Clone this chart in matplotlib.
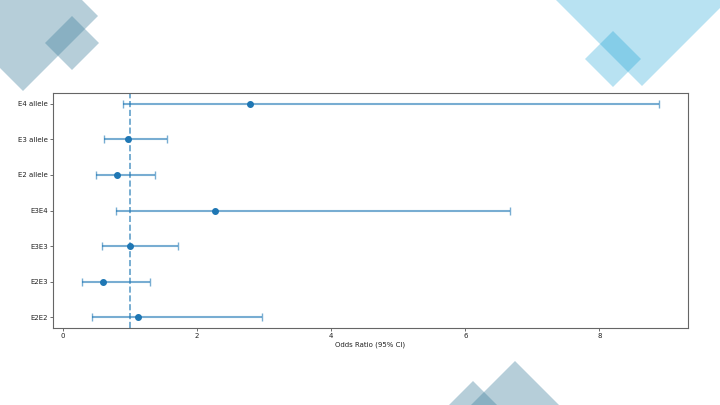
import matplotlib
matplotlib.use("Agg")
import matplotlib.pyplot as plt
from matplotlib.patches import Polygon

categories = ["E2E2", "E2E3", "E3E3", "E3E4", "E2 allele", "E3 allele", "E4 allele"]
odds_ratio = [1.11, 0.59, 1.00, 2.27, 0.80, 0.97, 2.79]
ci_lower = [0.43, 0.28, 0.58, 0.79, 0.49, 0.61, 0.89]
ci_upper = [2.96, 1.29, 1.71, 6.67, 1.37, 1.55, 8.89]

fig = plt.figure(figsize=(7.2, 4.05), dpi=100)

# decorative background shapes (pixel coordinates)
bg = fig.add_axes([0, 0, 1, 1], zorder=0)
bg.set_xlim(0, 720)
bg.set_ylim(405, 0)
bg.axis("off")

def diamond(cx, cy, r, color, alpha):
    pts = [(cx, cy - r), (cx + r, cy), (cx, cy + r), (cx - r, cy)]
    bg.add_patch(Polygon(pts, closed=True, facecolor=color, alpha=alpha, edgecolor="none"))

gray = "#3f7f9c"
light = "#0398d1"
diamond(23, 16, 75, gray, 0.375)
diamond(72, 43, 27, gray, 0.375)
diamond(642, -14, 100, light, 0.28)
diamond(613, 59, 28, light, 0.28)
diamond(515, 421, 60, gray, 0.375)
diamond(473, 411, 30, gray, 0.375)

ax = fig.add_axes([53 / 720, 1 - 328 / 405, (688 - 53) / 720, (328 - 93) / 405], zorder=1)
y = list(range(len(categories)))
xerr = [[o - l for o, l in zip(odds_ratio, ci_lower)],
        [u - o for o, u in zip(odds_ratio, ci_upper)]]
ax.errorbar(odds_ratio, y, xerr=xerr, fmt="o", color="#1f77b4", ecolor="#1f77b4",
            elinewidth=1.5, capsize=3, markersize=4)
for c in ax.collections:
    c.set_alpha(0.6)
for l in ax.lines[1:]:
    l.set_alpha(0.6)
ax.axvline(1, color="#1f77b4", linestyle="--", alpha=0.7, linewidth=1.2)
ax.set_yticks(y)
ax.set_yticklabels(categories)
ax.set_xticks([0, 2, 4, 6, 8])
ax.set_xlabel("Odds Ratio (95% CI)", fontsize=5.0, labelpad=2, color="#222222")
ax.tick_params(labelsize=5.0, length=2, width=0.6, pad=1.5, color="#555555",
               labelcolor="#222222")
for s in ax.spines.values():
    s.set_color("#666666")
    s.set_linewidth(0.8)

fig.savefig("out.png", dpi=100)
